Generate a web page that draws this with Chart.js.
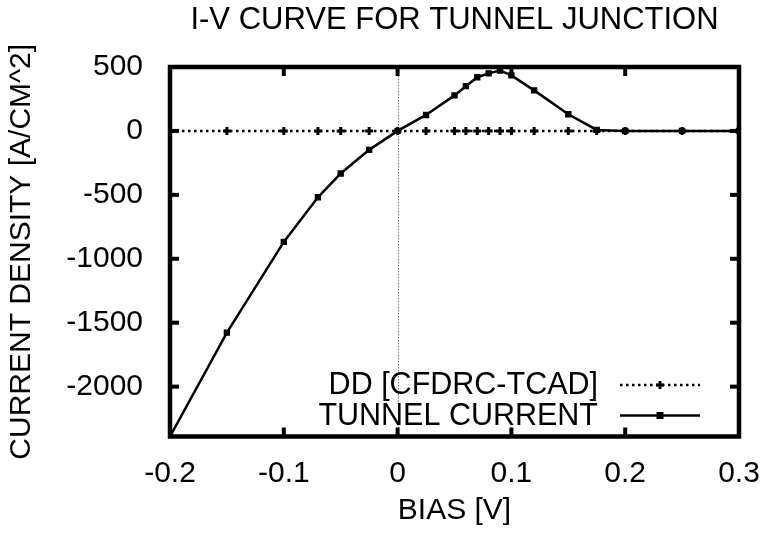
<!DOCTYPE html>
<html>
<head>
<meta charset="utf-8">
<script src="https://cdn.jsdelivr.net/npm/chart.js"></script>
<style>
  body { margin: 0; background: #fff; }
</style>
</head>
<body>
<canvas id="ivChart" width="764" height="534"></canvas>

<script>

// donnees
const biasV = [-0.2, -0.15, -0.1, -0.07, -0.05, -0.025, 0, 0.025, 0.05, 0.06, 0.07, 0.08, 0.09, 0.1, 0.12, 0.15, 0.175, 0.2, 0.25, 0.3];
const ddCurrent = [0, 0, 0, 0, 0, 0, 0, 0, 0, 0, 0, 0, 0, 0, 0, 0, 0, 0, 0, 0];
const tunnelCurrent = [-2390, -1578, -868, -519, -333, -148, 0, 125, 278, 350, 420, 450, 473, 434, 317, 130, 8, 0, 0, 0];

const xTicks = [-0.2, -0.1, 0, 0.1, 0.2, 0.3];
const xTickLabels = ['-0.2', '-0.1', '0', '0.1', '0.2', '0.3'];
const yTicks = [500, 0, -500, -1000, -1500, -2000];
const yTickLabels = ['500', '0', '-500', '-1000', '-1500', '-2000'];

const FONT = { family: 'Liberation Sans, Arial, sans-serif', size: 30 };

function points(xs, ys) {
    return xs.map((v, i) => ({ x: v, y: ys[i] }));
}

// cadre, ticks interieurs, axe zero et legende facon gnuplot
const gnuFrame = {
    id: 'gnuFrame',
    beforeDatasetsDraw(chart) {
        const { ctx, chartArea: a, scales: { x } } = chart;
        const x0 = Math.round(x.getPixelForValue(0)) + 0.5;
        ctx.save();
        ctx.strokeStyle = '#777';
        ctx.lineWidth = 1;
        ctx.setLineDash([1.5, 1.5]);
        ctx.beginPath();
        ctx.moveTo(x0, a.top);
        ctx.lineTo(x0, a.bottom);
        ctx.stroke();
        ctx.restore();
    },
    afterDraw(chart) {
        const { ctx, chartArea: a, scales: { x, y } } = chart;
        ctx.save();
        ctx.strokeStyle = '#000';
        ctx.fillStyle = '#000';
        ctx.lineWidth = 4.5;
        ctx.strokeRect(a.left, a.top, a.right - a.left, a.bottom - a.top);

        xTicks.forEach(v => {
            const px = x.getPixelForValue(v);
            ctx.fillRect(px - 2, a.bottom - 9, 4, 9);
            ctx.fillRect(px - 2, a.top, 4, 9);
        });
        yTicks.forEach(v => {
            const py = y.getPixelForValue(v);
            ctx.fillRect(a.left, py - 2, 9, 4);
            ctx.fillRect(a.right - 9, py - 2, 9, 4);
        });

        // legende
        const ds = chart.data.datasets;
        const rows = [a.bottom - 51.5, a.bottom - 21];
        ctx.font = '30.5px ' + FONT.family;
        ctx.textAlign = 'right';
        ctx.textBaseline = 'middle';
        ds.forEach((d, i) => {
            const yy = rows[i];
            ctx.fillText(d.label, a.right - 141, yy + 1);
            const x1 = a.right - 119, x2 = a.right - 39, xm = (x1 + x2) / 2;
            ctx.lineWidth = d.borderWidth;
            ctx.setLineDash(d.borderDash || []);
            ctx.beginPath();
            ctx.moveTo(x1, yy);
            ctx.lineTo(x2, yy);
            ctx.stroke();
            ctx.setLineDash([]);
            if (d.pointStyle === 'cross') {
                ctx.lineWidth = d.pointBorderWidth;
                ctx.beginPath();
                ctx.moveTo(xm - d.pointRadius, yy);
                ctx.lineTo(xm + d.pointRadius, yy);
                ctx.moveTo(xm, yy - d.pointRadius);
                ctx.lineTo(xm, yy + d.pointRadius);
                ctx.stroke();
            } else {
                ctx.fillRect(xm - 3.5, yy - 3.5, 7, 7);
            }
        });
        ctx.restore();
    }
};

const ctx = document.getElementById('ivChart').getContext('2d');
const chart = new Chart(ctx, {
    type: 'line',
    data: {
        datasets: [{
            label: 'DD [CFDRC-TCAD]',
            data: points(biasV, ddCurrent),
            borderColor: '#000',
            backgroundColor: '#000',
            borderWidth: 2.5,
            borderDash: [2.5, 3.5],
            pointStyle: 'cross',
            pointRadius: 4,
            pointBorderWidth: 3,
            tension: 0,
            order: 1
        }, {
            label: 'TUNNEL CURRENT',
            data: points(biasV, tunnelCurrent),
            borderColor: '#000',
            backgroundColor: '#000',
            borderWidth: 2.5,
            pointStyle: 'rect',
            pointRadius: 4.5,
            pointBorderWidth: 0,
            tension: 0,
            order: 0
        }]
    },
    options: {
        responsive: false,
        animation: false,
        layout: { padding: { left: 0, right: 25, top: 0, bottom: 0 } },
        plugins: {
            legend: { display: false },
            tooltip: { enabled: false },
            title: {
                display: true,
                text: 'I-V CURVE FOR TUNNEL JUNCTION',
                color: '#000',
                font: { family: FONT.family, size: 31, weight: 'normal' },
                fullSize: false,
                padding: { top: 1.5, bottom: 28.3 }
            }
        },
        scales: {
            x: {
                type: 'linear',
                min: -0.2,
                max: 0.3,
                afterBuildTicks: s => { s.ticks = xTicks.map(v => ({ value: v })); },
                afterFit: s => { s.height = 97.5; s.paddingLeft = 0; s.paddingRight = 0; },
                grid: { display: false },
                border: { display: false },
                ticks: {
                    color: '#000',
                    font: FONT,
                    padding: 11,
                    maxRotation: 0,
                    callback: (v) => xTickLabels[xTicks.indexOf(v)]
                },
                title: {
                    display: true,
                    text: 'BIAS [V]',
                    color: '#000',
                    font: FONT,
                    padding: { top: 0, bottom: 5 }
                }
            },
            y: {
                type: 'linear',
                min: -2390,
                max: 500,
                afterBuildTicks: s => { s.ticks = yTicks.map(v => ({ value: v })); },
                afterFit: s => { s.width = 170; s.paddingTop = 0; s.paddingBottom = 0; },
                grid: { display: false },
                border: { display: false },
                ticks: {
                    color: '#000',
                    font: FONT,
                    padding: 19,
                    callback: (v) => yTickLabels[yTicks.indexOf(v)]
                },
                title: {
                    display: true,
                    text: 'CURRENT DENSITY [A/CM^2]',
                    color: '#000',
                    font: FONT,
                    padding: { top: 4, bottom: 0 }
                }
            }
        }
    },
    plugins: [gnuFrame]
});

</script>
</body>
</html>
